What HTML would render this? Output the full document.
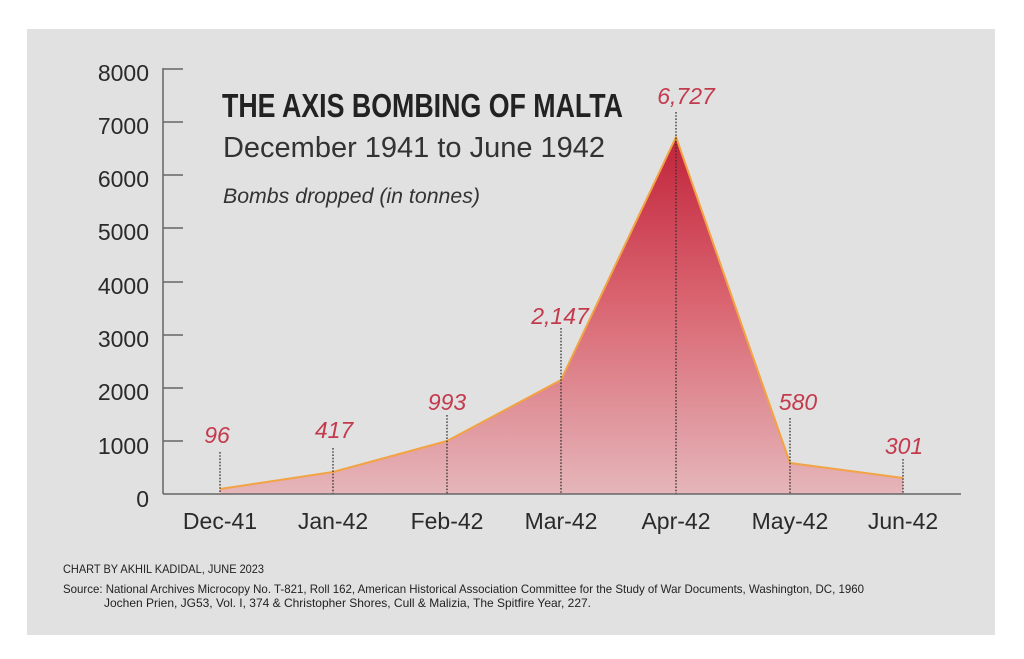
<!DOCTYPE html>
<html><head><meta charset="utf-8"><style>
html,body{margin:0;padding:0;background:#fff;}
svg{display:block;}
text{font-family:"Liberation Sans",sans-serif;}
</style></head><body>
<svg width="1024" height="659" viewBox="0 0 1024 659" xmlns="http://www.w3.org/2000/svg">
<defs>
<linearGradient id="g" x1="0" y1="137" x2="0" y2="494" gradientUnits="userSpaceOnUse">
<stop offset="0" stop-color="#c1233a"/>
<stop offset="0.45" stop-color="#d9636f"/>
<stop offset="1" stop-color="#e5b6ba"/>
</linearGradient>
</defs>
<rect x="0" y="0" width="1024" height="659" fill="#fff"/>
<rect x="27" y="29" width="968" height="606" fill="#e1e1e1"/>

<!-- area -->
<polygon points="220,494 220,489 333,472 447,441 561,380 676,137 790,463 903,478 903,494" fill="url(#g)"/>
<polyline points="220,489 333,472 447,441 561,380 676,137 790,463 903,478" fill="none" stroke="#f2a343" stroke-width="2" stroke-linejoin="round"/>

<!-- dotted lines -->
<g stroke="#333" stroke-width="1.3" stroke-dasharray="1.6 1.6">
<line x1="220" y1="452" x2="220" y2="494"/>
<line x1="333" y1="448" x2="333" y2="494"/>
<line x1="447" y1="415" x2="447" y2="494"/>
<line x1="561" y1="328" x2="561" y2="494"/>
<line x1="676" y1="112" x2="676" y2="494"/>
<line x1="790" y1="418" x2="790" y2="494"/>
<line x1="903" y1="459" x2="903" y2="494"/>
</g>

<!-- axes -->
<g stroke="#666" stroke-width="1.5" fill="none">
<line x1="163" y1="68" x2="163" y2="494"/>
<line x1="163" y1="494" x2="961" y2="494"/>
<line x1="163" y1="69" x2="183" y2="69"/>
<line x1="163" y1="122" x2="183" y2="122"/>
<line x1="163" y1="175" x2="183" y2="175"/>
<line x1="163" y1="228" x2="183" y2="228"/>
<line x1="163" y1="282" x2="183" y2="282"/>
<line x1="163" y1="335" x2="183" y2="335"/>
<line x1="163" y1="388" x2="183" y2="388"/>
<line x1="163" y1="441" x2="183" y2="441"/>
</g>

<!-- y labels -->
<g font-size="23" fill="#2a2a2a" text-anchor="end">
<text x="149" y="81">8000</text>
<text x="149" y="134">7000</text>
<text x="149" y="187">6000</text>
<text x="149" y="240">5000</text>
<text x="149" y="294">4000</text>
<text x="149" y="347">3000</text>
<text x="149" y="400">2000</text>
<text x="149" y="454">1000</text>
<text x="149" y="507">0</text>
</g>

<!-- x labels -->
<g font-size="23" fill="#2a2a2a" text-anchor="middle">
<text x="220" y="529">Dec-41</text>
<text x="333" y="529">Jan-42</text>
<text x="447" y="529">Feb-42</text>
<text x="561" y="529">Mar-42</text>
<text x="676" y="529">Apr-42</text>
<text x="790" y="529">May-42</text>
<text x="903" y="529">Jun-42</text>
</g>

<!-- value labels -->
<g font-size="23" fill="#c33a4c" font-style="italic" text-anchor="middle">
<text x="217" y="443">96</text>
<text x="334" y="438">417</text>
<text x="447" y="410">993</text>
<text x="560" y="324">2,147</text>
<text x="686" y="104">6,727</text>
<text x="798" y="410">580</text>
<text x="904" y="454">301</text>
</g>

<!-- titles -->
<text x="222" y="117" font-size="33" font-weight="bold" fill="#222" textLength="401" lengthAdjust="spacingAndGlyphs">THE AXIS BOMBING OF MALTA</text>
<text x="223" y="157" font-size="29" fill="#333" textLength="382" lengthAdjust="spacingAndGlyphs">December 1941 to June 1942</text>
<text x="223" y="203" font-size="21" font-style="italic" fill="#333" textLength="257" lengthAdjust="spacingAndGlyphs">Bombs dropped (in tonnes)</text>

<!-- footer -->
<text x="63" y="573" font-size="12" fill="#222" textLength="201" lengthAdjust="spacingAndGlyphs">CHART BY AKHIL KADIDAL, JUNE 2023</text>
<text x="63" y="593" font-size="12" fill="#222" textLength="801" lengthAdjust="spacingAndGlyphs">Source: National Archives Microcopy No. T-821, Roll 162, American Historical Association Committee for the Study of War Documents, Washington, DC, 1960</text>
<text x="104" y="607" font-size="12" fill="#222" textLength="487" lengthAdjust="spacingAndGlyphs">Jochen Prien, JG53, Vol. I, 374 &amp; Christopher Shores, Cull &amp; Malizia, The Spitfire Year, 227.</text>
</svg>
</body></html>
